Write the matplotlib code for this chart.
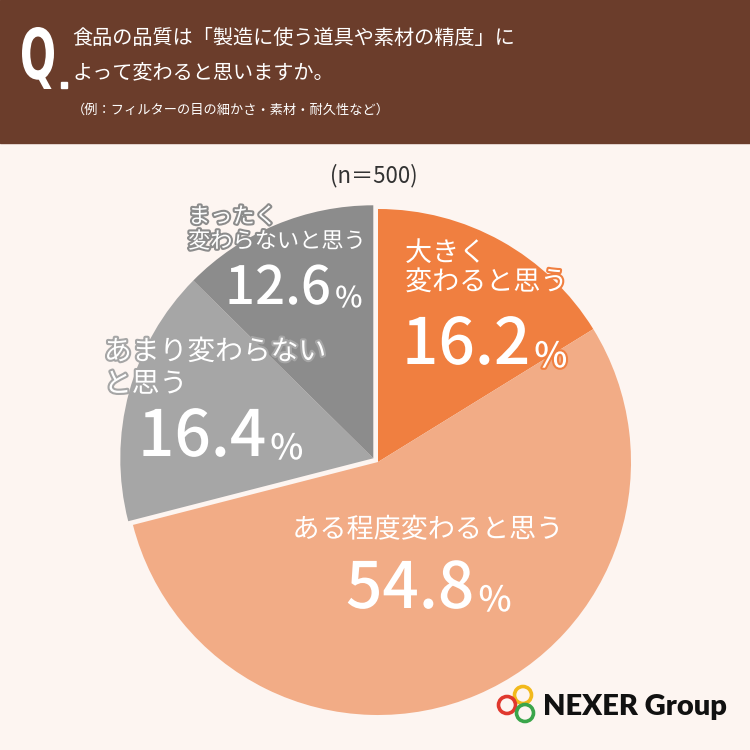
import matplotlib.pyplot as plt
import matplotlib.patheffects as pe
from matplotlib.patches import Rectangle, Circle, PathPatch
from matplotlib.textpath import TextPath
from matplotlib.font_manager import FontProperties
from matplotlib.transforms import Affine2D

plt.rcParams['font.family'] = ['Noto Sans CJK JP', 'DejaVu Sans']

# data (clockwise from top)
labels = ['大きく\n変わると思う', 'ある程度変わると思う', 'あまり変わらない\nと思う', 'まったく\n変わらないと思う']
values = [16.2, 54.8, 16.4, 12.6]
colors = ['#f07f40', '#f2ac86', '#a6a6a6', '#8c8c8c']
n_total = 500

title1 = '食品の品質は「製造に使う道具や素材の精度」に'
title2 = 'よって変わると思いますか。'
title3 = '（例：フィルターの目の細かさ・素材・耐久性など）'

BG = '#fdf5f1'
BROWN = '#6b3d2b'

fig = plt.figure(figsize=(7.5, 7.5), dpi=100, facecolor=BG)
ax = fig.add_axes([0, 0, 1, 1])
ax.set_facecolor(BG)

# pie, y axis inverted so use pixel like coords
cx, cy, r = 378, 462, 253
wedges, _ = ax.pie(values, colors=colors, startangle=-90, counterclock=True,
                   center=(cx, cy), radius=r, frame=True,
                   wedgeprops={'linewidth': 0})
# grey wedges pulled a bit to upper left
for w in wedges[2:]:
    w.set_center((cx - 4.7, cy - 3.7))

ax.set_xlim(0, 750)
ax.set_ylim(750, 0)
ax.set_aspect('equal')
ax.axis('off')

# header
ax.add_patch(Rectangle((0, 0), 750, 143, color=BROWN, zorder=3))
qp = TextPath((0, 0), 'Q', prop=FontProperties(family='DejaVu Sans', weight='bold'))
bb = qp.get_extents()
tr = Affine2D().translate(-bb.x0, -bb.y0).scale(32 / bb.width, -62 / bb.height).translate(22, 89)
ax.add_patch(PathPatch(tr.transform_path(qp), color='white', lw=0, zorder=4))
ax.add_patch(Rectangle((61, 82), 5.5, 6, color='white', zorder=4))
ax.text(72, 38, title1, color='white', fontsize=14.5, va='center', ha='left', zorder=4)
ax.text(72, 73, title2, color='white', fontsize=14.5, va='center', ha='left', zorder=4)
ax.text(72, 110, title3, color='white', fontsize=9.5, va='center', ha='left', zorder=4)

ax.text(374, 176, f'(n＝{n_total})', color='#333333', fontsize=16, ha='center', va='center')


def label(x, y, txt, size, stroke, ha='left'):
    ax.text(x, y, txt, color='white', fontsize=size, ha=ha, va='center',
            linespacing=1.1, zorder=5,
            path_effects=[pe.withStroke(linewidth=3, foreground=stroke)])


def pct(x, y, val, size, stroke, ha='left'):
    fx = [pe.withStroke(linewidth=3, foreground=stroke)]
    t = ax.text(x, y, f'{val}', color='white', fontsize=size, ha=ha, va='bottom',
                fontweight='medium', zorder=5, path_effects=fx)
    ax.annotate('%', xy=(1, 0), xycoords=t, xytext=(3, 2), textcoords='offset points',
                color='white', fontsize=size * 0.55, va='bottom', ha='left',
                fontweight='medium', zorder=5, path_effects=fx)


label(405, 268, labels[0], 19.5, colors[0])
pct(402, 378, values[0], 46, colors[0])
label(428, 530, labels[1], 19.5, colors[1], ha='center')
pct(346, 622, values[1], 46, colors[1])
label(104, 368, labels[2], 20, colors[2])
pct(138, 470, values[2], 46, colors[2])
label(188, 229, labels[3], 16, colors[3])
pct(225, 316, values[3], 38, colors[3])

# logo
for (lx, ly, lc) in [(523, 695, '#f2b91c'), (507, 705, '#e0382e'), (525, 713, '#3aa54a')]:
    ax.add_patch(Circle((lx, ly), 8.5, fill=False, ec=lc, lw=2.6, zorder=6))
ax.text(543, 707, 'NEXER Group', color='#111111', fontsize=21, fontweight='heavy',
        family='Lato', ha='left', va='center', zorder=6)

fig.savefig('out.png', dpi=100, facecolor=BG)
